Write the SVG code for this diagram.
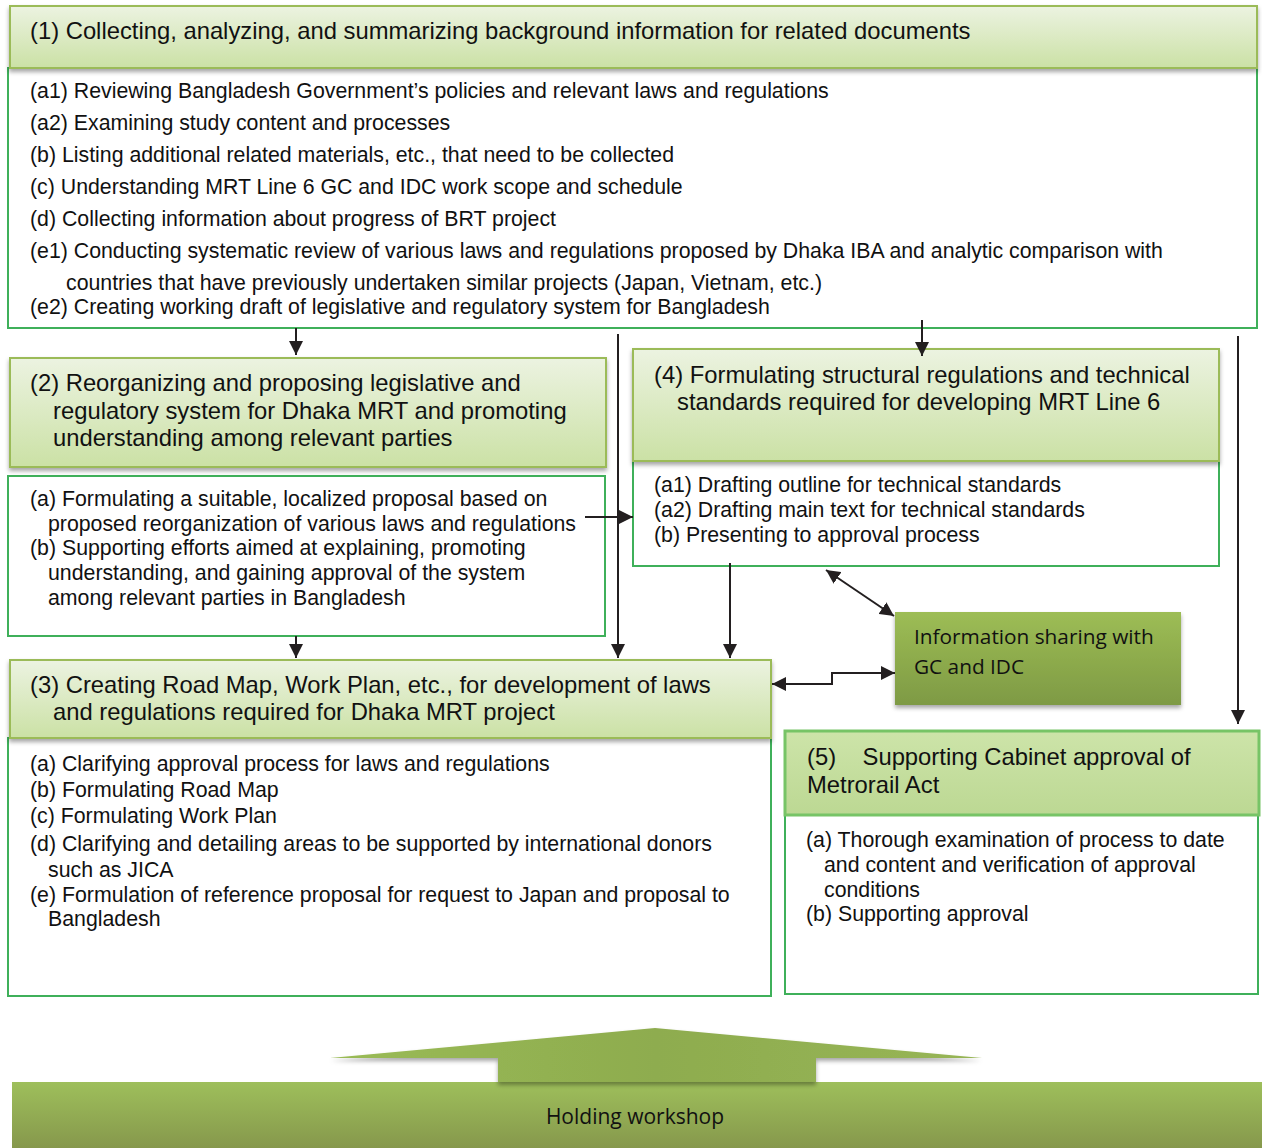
<svg xmlns="http://www.w3.org/2000/svg" width="1262" height="1148" viewBox="0 0 1262 1148">
<defs>
<linearGradient id="hdr" x1="0" y1="0" x2="0" y2="1">
<stop offset="0" stop-color="#ecf3e1"/>
<stop offset="1" stop-color="#cbe1a5"/>
</linearGradient>
<linearGradient id="hdr5" x1="0" y1="0" x2="0" y2="1">
<stop offset="0" stop-color="#cde4a9"/>
<stop offset="1" stop-color="#bcd893"/>
</linearGradient>
<linearGradient id="info" x1="0" y1="0" x2="0" y2="1">
<stop offset="0" stop-color="#9dbd55"/>
<stop offset="1" stop-color="#7e9a44"/>
</linearGradient>
<linearGradient id="bar" x1="0" y1="0" x2="0" y2="1">
<stop offset="0" stop-color="#9ebf5b"/>
<stop offset="1" stop-color="#86984c"/>
</linearGradient>
<linearGradient id="up" x1="0" y1="0" x2="1" y2="0">
<stop offset="0" stop-color="#9abb55"/>
<stop offset="0.5" stop-color="#8eac4f"/>
<stop offset="1" stop-color="#97b555"/>
</linearGradient>
<filter id="sh" x="-5%" y="-20%" width="110%" height="150%">
<feDropShadow dx="0" dy="3" stdDeviation="2" flood-color="#000" flood-opacity="0.35"/>
</filter>
<marker id="ah2" viewBox="0 0 10 10" refX="10" refY="5" markerWidth="14" markerHeight="14" orient="auto-start-reverse" markerUnits="userSpaceOnUse">
<path d="M0,0 L10,5 L0,10 z" fill="#231f20"/>
</marker>
</defs>
<style>
.hdr{fill:url(#hdr);stroke:#9bbb59;stroke-width:2;filter:url(#sh)}
.body{fill:#fff;stroke:#3fb05a;stroke-width:2}
.t{font-family:"Liberation Sans",Arial,sans-serif;font-size:21.3px;fill:#111}
.h{font-family:"Liberation Sans",Arial,sans-serif;font-size:23.8px;fill:#111}
.c{font-family:"Open Sans","Noto Sans",sans-serif;fill:#111}
.ln{stroke:#231f20;stroke-width:2;fill:none;marker-end:url(#ah2)}
</style>
<rect width="1262" height="1148" fill="#fff"/>

<g id="node1">
<rect class="body" x="8" y="68" width="1249" height="260"/>
<rect class="hdr" x="10" y="6" width="1247" height="62"/>
<text class="h" x="30" y="39">(1) Collecting, analyzing, and summarizing background information for related documents</text>
<text class="t" x="30" y="98">(a1) Reviewing Bangladesh Government’s policies and relevant laws and regulations</text>
<text class="t" x="30" y="130">(a2) Examining study content and processes</text>
<text class="t" x="30" y="162">(b) Listing additional related materials, etc., that need to be collected</text>
<text class="t" x="30" y="194">(c) Understanding MRT Line 6 GC and IDC work scope and schedule</text>
<text class="t" x="30" y="226">(d) Collecting information about progress of BRT project</text>
<text class="t" x="30" y="258">(e1) Conducting systematic review of various laws and regulations proposed by Dhaka IBA and analytic comparison with</text>
<text class="t" x="66" y="290">countries that have previously undertaken similar projects (Japan, Vietnam, etc.)</text>
<text class="t" x="30" y="314">(e2) Creating working draft of legislative and regulatory system for Bangladesh</text>
</g>

<g id="node2">
<rect class="body" x="8" y="476" width="597" height="160"/>
<rect class="hdr" x="10" y="358" width="596" height="109"/>
<text class="h" x="30" y="391">(2) Reorganizing and proposing legislative and</text>
<text class="h" x="53" y="419">regulatory system for Dhaka MRT and promoting</text>
<text class="h" x="53" y="446">understanding among relevant parties</text>
<text class="t" x="30" y="506">(a) Formulating a suitable, localized proposal based on</text>
<text class="t" x="48" y="531">proposed reorganization of various laws and regulations</text>
<text class="t" x="30" y="555">(b) Supporting efforts aimed at explaining, promoting</text>
<text class="t" x="48" y="580">understanding, and gaining approval of the system</text>
<text class="t" x="48" y="605">among relevant parties in Bangladesh</text>
</g>

<g id="node4">
<rect class="body" x="633" y="461" width="586" height="105"/>
<rect class="hdr" x="633" y="349" width="586" height="112"/>
<text class="h" x="654" y="383">(4) Formulating structural regulations and technical</text>
<text class="h" x="677" y="410">standards required for developing MRT Line 6</text>
<text class="t" x="654" y="492">(a1) Drafting outline for technical standards</text>
<text class="t" x="654" y="517">(a2) Drafting main text for technical standards</text>
<text class="t" x="654" y="542">(b) Presenting to approval process</text>
</g>

<g id="node3">
<rect class="body" x="8" y="738" width="763" height="258"/>
<rect class="hdr" x="10" y="660" width="761" height="78"/>
<text class="h" x="30" y="693">(3) Creating Road Map, Work Plan, etc., for development of laws</text>
<text class="h" x="53" y="720">and regulations required for Dhaka MRT project</text>
<text class="t" x="30" y="771">(a) Clarifying approval process for laws and regulations</text>
<text class="t" x="30" y="797">(b) Formulating Road Map</text>
<text class="t" x="30" y="823">(c) Formulating Work Plan</text>
<text class="t" x="30" y="851">(d) Clarifying and detailing areas to be supported by international donors</text>
<text class="t" x="48" y="877">such as JICA</text>
<text class="t" x="30" y="902">(e) Formulation of reference proposal for request to Japan and proposal to</text>
<text class="t" x="48" y="926">Bangladesh</text>
</g>

<g id="node5">
<rect class="body" x="785" y="815" width="473" height="179"/>
<rect x="785" y="731" width="474" height="84" fill="url(#hdr5)" stroke="#77c466" stroke-width="3"/>
<text class="h" x="807" y="765" xml:space="preserve">(5)    Supporting Cabinet approval of</text>
<text class="h" x="807" y="793">Metrorail Act</text>
<text class="t" x="806" y="847">(a) Thorough examination of process to date</text>
<text class="t" x="824" y="872">and content and verification of approval</text>
<text class="t" x="824" y="897">conditions</text>
<text class="t" x="806" y="921">(b) Supporting approval</text>
</g>

<g id="info">
<rect x="895" y="612" width="286" height="93" fill="url(#info)" filter="url(#sh)"/>
<text class="c" x="914" y="644" font-size="20.8">Information sharing with</text>
<text class="c" x="914" y="674" font-size="20.8">GC and IDC</text>
</g>

<g id="workshop">
<rect x="12" y="1082" width="1250" height="66" fill="url(#bar)"/>
<path d="M655,1028 L982,1058 L816,1058 L816,1082 L498,1082 L498,1058 L330,1058 Z" fill="url(#up)" filter="url(#sh)"/>
<text class="c" x="635" y="1124" font-size="21" text-anchor="middle">Holding workshop</text>
</g>

<g id="connectors">
<line class="ln" x1="296" y1="328" x2="296" y2="355"/>
<line class="ln" x1="618" y1="334" x2="618" y2="658"/>
<line class="ln" x1="922" y1="320" x2="922" y2="356"/>
<line class="ln" x1="1238" y1="336" x2="1238" y2="724"/>
<line class="ln" x1="585" y1="517" x2="633" y2="517"/>
<line class="ln" x1="296" y1="636" x2="296" y2="658"/>
<line class="ln" x1="730" y1="563" x2="730" y2="658"/>
<line class="ln" x1="826" y1="570" x2="894" y2="616" marker-start="url(#ah2)"/>
<path class="ln" d="M772,684 L832,684 L832,673 L895,673" marker-start="url(#ah2)"/>
</g>
</svg>
